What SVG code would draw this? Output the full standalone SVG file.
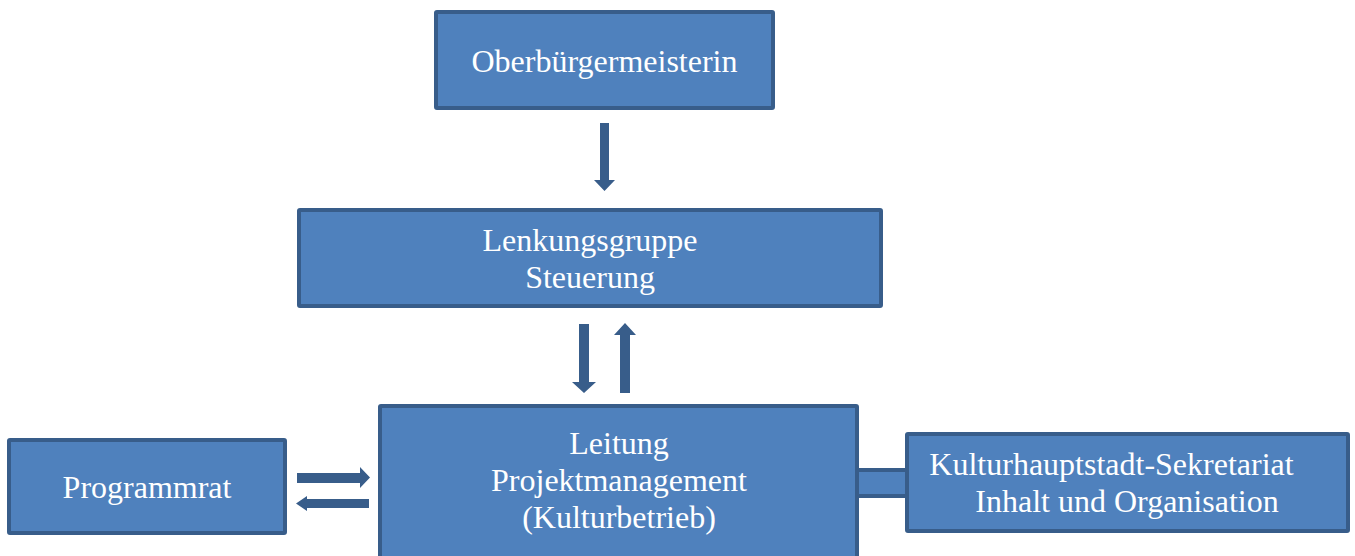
<svg xmlns="http://www.w3.org/2000/svg" width="1355" height="556" viewBox="0 0 1355 556">
<style>
.box{fill:#4f81bd;stroke:#385d8a;stroke-width:4}
.lbl{font-family:"Liberation Serif","Times New Roman",serif;font-size:32px;fill:#ffffff;text-anchor:middle}
.arr{fill:#385d8a}
</style>
<rect width="1355" height="556" fill="#ffffff"/>
<g id="connectors">
<rect class="box" x="857" y="470" width="50" height="26"/>
<polygon class="arr" points="600,123 609,123 609,180 615,180 604.5,191 594,180 600,180"/>
<polygon class="arr" points="579,324 589,324 589,382 596,382 584,393 572,382 579,382"/>
<polygon class="arr" points="620,393 630,393 630,335 636,335 625,323 614,335 620,335"/>
<polygon class="arr" points="297,473 360,473 360,467 370,477.5 360,488 360,483 297,483"/>
<polygon class="arr" points="369,499 369,508 307,508 307,511 296,503.5 307,496 307,499"/>
</g>
<g id="oberbuergermeisterin">
<rect class="box" x="436" y="12" width="337" height="96" rx="1"/>
<text class="lbl" x="604.5" y="72">Oberbürgermeisterin</text>
</g>
<g id="lenkungsgruppe">
<rect class="box" x="299" y="210" width="582" height="96" rx="1"/>
<text class="lbl" x="590" y="251">Lenkungsgruppe</text>
<text class="lbl" x="590" y="288">Steuerung</text>
</g>
<g id="leitung">
<rect class="box" x="380" y="406" width="477" height="200" rx="1"/>
<text class="lbl" x="619" y="454">Leitung</text>
<text class="lbl" x="619" y="491">Projektmanagement</text>
<text class="lbl" x="619" y="528">(Kulturbetrieb)</text>
</g>
<g id="programmrat">
<rect class="box" x="9" y="440" width="276" height="93" rx="1"/>
<text class="lbl" x="147" y="498">Programmrat</text>
</g>
<g id="sekretariat">
<rect class="box" x="907" y="434" width="441" height="97" rx="1"/>
<text class="lbl" x="1111.5" y="475">Kulturhauptstadt-Sekretariat</text>
<text class="lbl" x="1127" y="512">Inhalt und Organisation</text>
</g>
</svg>
